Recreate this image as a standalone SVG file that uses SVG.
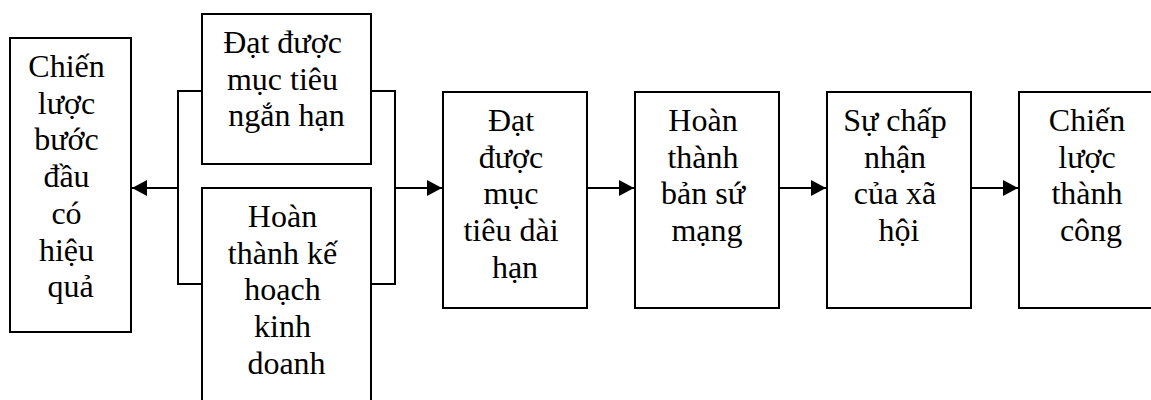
<svg xmlns="http://www.w3.org/2000/svg" width="1151" height="400" viewBox="0 0 1151 400">
  <style>
    .box { fill: #ffffff; stroke: #000000; stroke-width: 2; }
    .lbl { font-family: "Liberation Serif", "Times New Roman", serif; font-size: 32px; fill: #000000; text-anchor: middle; }
    .wire { fill: none; stroke: #000000; stroke-width: 2; }
  </style>
  <defs>
    <marker id="head" markerUnits="userSpaceOnUse" markerWidth="16" markerHeight="16" refX="15" refY="8" orient="auto">
      <path d="M0,0 L15,8 L0,16 Z" fill="#000000"/>
    </marker>
  </defs>
  <rect width="1151" height="400" fill="#ffffff"/>

  <!-- connectors -->
  <g id="connectors">
    <polyline class="wire" points="202,91 178,91 178,284 202,284"/>
    <line class="wire" x1="178" y1="188" x2="132" y2="188" marker-end="url(#head)"/>
    <polyline class="wire" points="371,91 395,91 395,284 371,284"/>
    <line class="wire" x1="395" y1="188" x2="442" y2="188" marker-end="url(#head)"/>
    <line class="wire" x1="587" y1="188" x2="634" y2="188" marker-end="url(#head)"/>
    <line class="wire" x1="779" y1="188" x2="826" y2="188" marker-end="url(#head)"/>
    <line class="wire" x1="971" y1="188" x2="1018" y2="188" marker-end="url(#head)"/>
  </g>

  <g id="chien-luoc-buoc-dau">
    <rect class="box" x="10" y="38" width="121" height="294"/>
    <text class="lbl">
      <tspan x="70.5" y="77">Chiến</tspan>
      <tspan x="70.5" y="113.7">lược</tspan>
      <tspan x="70.5" y="150.4">bước</tspan>
      <tspan x="70.5" y="187.1">đầu</tspan>
      <tspan x="70.5" y="223.8">có</tspan>
      <tspan x="70.5" y="260.5">hiệu</tspan>
      <tspan x="70.5" y="297.2">quả</tspan>
    </text>
  </g>

  <g id="muc-tieu-ngan-han">
    <rect class="box" x="202" y="14" width="169" height="150"/>
    <text class="lbl">
      <tspan x="286.5" y="53">Đạt được</tspan>
      <tspan x="286.5" y="89.7">mục tiêu</tspan>
      <tspan x="286.5" y="126.4">ngắn hạn</tspan>
    </text>
  </g>

  <g id="ke-hoach-kinh-doanh">
    <rect class="box" x="202" y="188" width="169" height="230"/>
    <text class="lbl">
      <tspan x="286.5" y="227">Hoàn</tspan>
      <tspan x="286.5" y="263.7">thành kế</tspan>
      <tspan x="286.5" y="300.4">hoạch</tspan>
      <tspan x="286.5" y="337.1">kinh</tspan>
      <tspan x="286.5" y="373.8">doanh</tspan>
    </text>
  </g>

  <g id="muc-tieu-dai-han">
    <rect class="box" x="443" y="92" width="144" height="216"/>
    <text class="lbl">
      <tspan x="515" y="131">Đạt</tspan>
      <tspan x="515" y="167.7">được</tspan>
      <tspan x="515" y="204.4">mục</tspan>
      <tspan x="515" y="241.1">tiêu dài</tspan>
      <tspan x="515" y="277.8">hạn</tspan>
    </text>
  </g>

  <g id="ban-su-mang">
    <rect class="box" x="635" y="92" width="144" height="216"/>
    <text class="lbl">
      <tspan x="707" y="131">Hoàn</tspan>
      <tspan x="707" y="167.7">thành</tspan>
      <tspan x="707" y="204.4">bản sứ</tspan>
      <tspan x="707" y="241.1">mạng</tspan>
    </text>
  </g>

  <g id="chap-nhan-xa-hoi">
    <rect class="box" x="827" y="92" width="144" height="216"/>
    <text class="lbl">
      <tspan x="899" y="131">Sự chấp</tspan>
      <tspan x="899" y="167.7">nhận</tspan>
      <tspan x="899" y="204.4">của xã</tspan>
      <tspan x="899" y="241.1">hội</tspan>
    </text>
  </g>

  <g id="chien-luoc-thanh-cong">
    <rect class="box" x="1019" y="92" width="144" height="216"/>
    <text class="lbl">
      <tspan x="1091" y="131">Chiến</tspan>
      <tspan x="1091" y="167.7">lược</tspan>
      <tspan x="1091" y="204.4">thành</tspan>
      <tspan x="1091" y="241.1">công</tspan>
    </text>
  </g>
</svg>
